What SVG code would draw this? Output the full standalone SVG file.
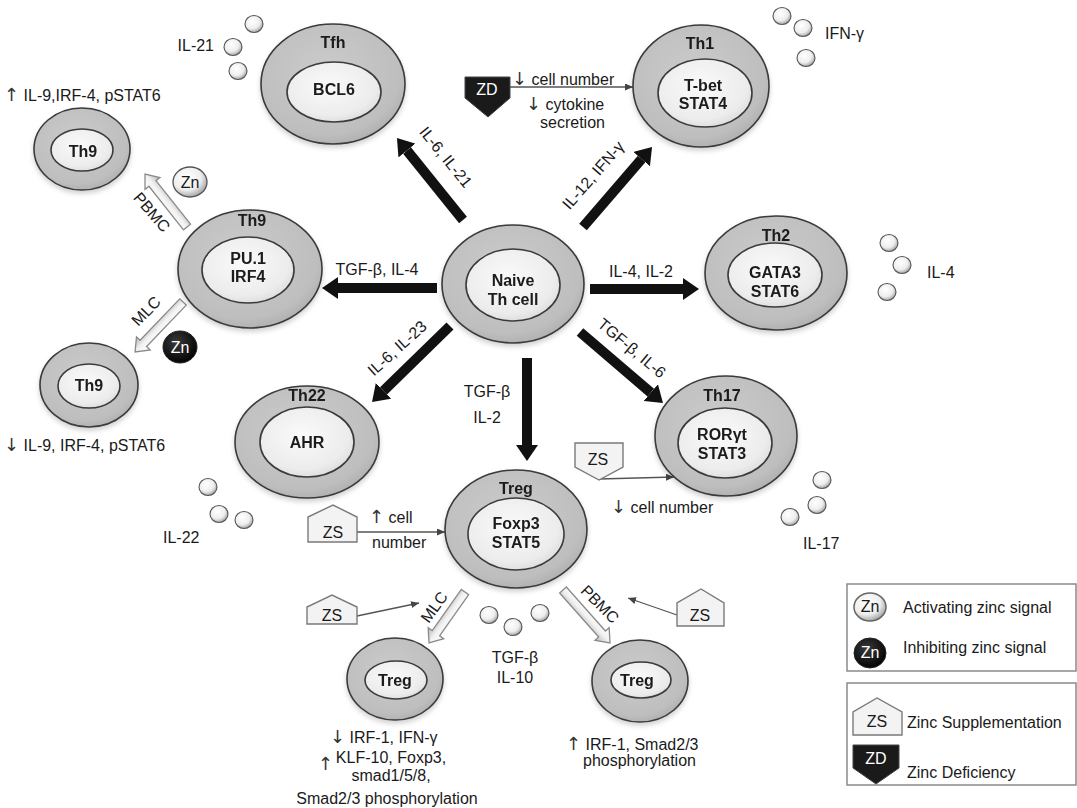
<svg xmlns="http://www.w3.org/2000/svg" width="1077" height="808" viewBox="0 0 1077 808">
<style>
.outer{fill:url(#gOuter);stroke:#3a3a3a;stroke-width:1.6}
.inner{fill:url(#gInner);stroke:#3a3a3a;stroke-width:1.6}
.b{font-family:"Liberation Sans",Arial,sans-serif;font-weight:bold;font-size:16px;fill:#1a1a1a;text-anchor:middle}
.t{font-family:"Liberation Sans",Arial,sans-serif;font-size:16px;fill:#1a1a1a}
.m{text-anchor:middle}
.ar{font-family:"DejaVu Sans",sans-serif;font-size:18px;fill:#333}
.bub{fill:url(#gBub);stroke:#555;stroke-width:1.1}
.thick{stroke:#111;stroke-width:10;fill:none;marker-end:url(#headBig)}
.thin{stroke:#555;stroke-width:1.3;fill:none;marker-end:url(#headSmall)}
.hollow{fill:url(#gHollow);stroke:#8a8a8a;stroke-width:1.3}
.zs{fill:#f3f3f3;stroke:#7a7a7a;stroke-width:1.4}
.zd{fill:#1a1a1a;stroke:#444;stroke-width:1}
.box{fill:#fff;stroke:#8a8a8a;stroke-width:1.5}
</style>
<defs>
<radialGradient id="gOuter" cx="0.45" cy="0.4" r="0.65">
<stop offset="0" stop-color="#cbcbcb"/><stop offset="0.8" stop-color="#bebebe"/><stop offset="1" stop-color="#ababab"/>
</radialGradient>
<radialGradient id="gInner" cx="0.45" cy="0.4" r="0.7">
<stop offset="0" stop-color="#fafafa"/><stop offset="0.7" stop-color="#ececec"/><stop offset="1" stop-color="#d4d4d4"/>
</radialGradient>
<radialGradient id="gBub" cx="0.4" cy="0.35" r="0.7">
<stop offset="0" stop-color="#ffffff"/><stop offset="0.6" stop-color="#eeeeee"/><stop offset="1" stop-color="#9a9a9a"/>
</radialGradient>
<radialGradient id="gBlack" cx="0.4" cy="0.35" r="0.7">
<stop offset="0" stop-color="#3a3a3a"/><stop offset="1" stop-color="#000"/>
</radialGradient>
<linearGradient id="gHollow" x1="0" y1="0" x2="0" y2="1">
<stop offset="0" stop-color="#ffffff"/><stop offset="0.5" stop-color="#f2f2f2"/><stop offset="1" stop-color="#b5b5b5"/>
</linearGradient>
<filter id="sh" x="-20%" y="-20%" width="140%" height="150%">
<feDropShadow dx="0" dy="3" stdDeviation="2.5" flood-color="#000" flood-opacity="0.18"/>
</filter>
<marker id="headBig" markerUnits="userSpaceOnUse" viewBox="0 -11 16 22" refX="0" refY="0" markerWidth="16" markerHeight="22" orient="auto">
<path d="M0,-11 L16,0 L0,11 z" fill="#111"/>
</marker>
<marker id="headSmall" markerUnits="userSpaceOnUse" viewBox="0 -3.5 8 7" refX="8" refY="0" markerWidth="8" markerHeight="7" orient="auto">
<path d="M0,-3.5 L8,0 L0,3.5 z" fill="#444"/>
</marker>
</defs>
<rect width="1077" height="808" fill="#fff"/>

<g id="connectors">
<line class="thick" x1="463" y1="220" x2="407" y2="150.5"/>
<line class="thick" x1="583" y1="227" x2="641.6" y2="159.1"/>
<line class="thick" x1="437" y1="288" x2="338" y2="288"/>
<line class="thick" x1="590" y1="289" x2="683" y2="289"/>
<line class="thick" x1="450" y1="326" x2="383.5" y2="390.8"/>
<line class="thick" x1="580" y1="332" x2="650.8" y2="392.6"/>
<line class="thick" x1="527" y1="358" x2="527" y2="445"/>
<polygon class="hollow" transform="translate(187,227) rotate(-128.4)" points="0,-4.5 55.6,-4.5 55.6,-9.5 67.6,0 55.6,9.5 55.6,4.5 0,4.5"/>
<polygon class="hollow" transform="translate(183,302) rotate(133.8)" points="0,-4.5 57.3,-4.5 57.3,-9.5 69.3,0 57.3,9.5 57.3,4.5 0,4.5"/>
<polygon class="hollow" transform="translate(465,592) rotate(125.2)" points="0,-4.5 50.4,-4.5 50.4,-9.5 62.4,0 50.4,9.5 50.4,4.5 0,4.5"/>
<polygon class="hollow" transform="translate(563,590) rotate(48.4)" points="0,-4.5 58.8,-4.5 58.8,-9.5 70.8,0 58.8,9.5 58.8,4.5 0,4.5"/>
<line class="thin" x1="510" y1="87" x2="633" y2="87"/>
<line class="thin" x1="357" y1="532" x2="445" y2="532"/>
<line class="thin" x1="599" y1="479" x2="674" y2="477"/>
<line class="thin" x1="357" y1="616" x2="419" y2="603"/>
<line class="thin" x1="677" y1="615" x2="628" y2="598"/>
</g>

<g id="labels">
<text class="t m" transform="translate(446,157) rotate(51)" y="5.7">IL-6, IL-21</text>
<text class="t m" transform="translate(593,175) rotate(-49)" y="5.7">IL-12, IFN-γ</text>
<text class="t m" transform="translate(397,348) rotate(-42)" y="5.7">IL-6, IL-23</text>
<text class="t m" transform="translate(632,348) rotate(40)" y="5.7">TGF-β, IL-6</text>
<text class="t m" x="377" y="275">TGF-β, IL-4</text>
<text class="t m" x="641" y="277">IL-4, IL-2</text>
<text class="t m" x="487" y="397">TGF-β</text>
<text class="t m" x="487" y="423">IL-2</text>
<text class="t m" transform="translate(152,212) rotate(49)" y="5.7">PBMC</text>
<text class="t m" transform="translate(146,311) rotate(-46)" y="5.7">MLC</text>
<text class="t m" transform="translate(434,607) rotate(-54)" y="5.7">MLC</text>
<text class="t m" transform="translate(600,604) rotate(45)" y="5.7">PBMC</text>
<text class="t" x="512" y="85"><tspan class="ar">↓</tspan> cell number</text>
<text class="t" x="526" y="110"><tspan class="ar">↓</tspan> cytokine</text>
<text class="t" x="540" y="128">secretion</text>
<text class="t" x="369" y="523"><tspan class="ar">↑</tspan> cell</text>
<text class="t" x="372" y="548">number</text>
<text class="t" x="611" y="513"><tspan class="ar">↓</tspan> cell number</text>
<text class="t" x="4" y="101"><tspan class="ar">↑</tspan> IL-9,IRF-4, pSTAT6</text>
<text class="t" x="4" y="451"><tspan class="ar">↓</tspan> IL-9, IRF-4, pSTAT6</text>
<text class="t" x="330" y="743"><tspan class="ar">↓</tspan> IRF-1, IFN-γ</text>
<text class="t" x="318" y="770"><tspan class="ar">↑</tspan></text>
<text class="t m" x="391" y="763">KLF-10, Foxp3,</text>
<text class="t m" x="391" y="781">smad1/5/8,</text>
<text class="t m" x="387" y="804">Smad2/3 phosphorylation</text>
<text class="t" x="566" y="750"><tspan class="ar">↑</tspan> IRF-1, Smad2/3</text>
<text class="t" x="583" y="766">phosphorylation</text>
</g>

<g id="cytokines">
<ellipse class="bub" cx="254" cy="24" rx="9" ry="8.5"/><ellipse class="bub" cx="233" cy="47" rx="9" ry="8.5"/><ellipse class="bub" cx="238" cy="71" rx="9" ry="8.5"/>
<text class="t" x="214" y="51" text-anchor="end">IL-21</text>
<ellipse class="bub" cx="782" cy="16" rx="9" ry="8.5"/><ellipse class="bub" cx="803" cy="28" rx="9" ry="8.5"/><ellipse class="bub" cx="806" cy="58" rx="9" ry="8.5"/>
<text class="t" x="825" y="39">IFN-γ</text>
<ellipse class="bub" cx="889" cy="243" rx="9" ry="8.5"/><ellipse class="bub" cx="902" cy="265" rx="9" ry="8.5"/><ellipse class="bub" cx="887" cy="292" rx="9" ry="8.5"/>
<text class="t" x="927" y="278">IL-4</text>
<ellipse class="bub" cx="208" cy="487" rx="9" ry="8.5"/><ellipse class="bub" cx="219" cy="514" rx="9" ry="8.5"/><ellipse class="bub" cx="244" cy="520" rx="9" ry="8.5"/>
<text class="t" x="163" y="543">IL-22</text>
<ellipse class="bub" cx="822" cy="480" rx="9" ry="8.5"/><ellipse class="bub" cx="817" cy="505" rx="9" ry="8.5"/><ellipse class="bub" cx="790" cy="517" rx="9" ry="8.5"/>
<text class="t" x="803" y="549">IL-17</text>
<ellipse class="bub" cx="489" cy="615" rx="9" ry="8.5"/><ellipse class="bub" cx="513" cy="627" rx="9" ry="8.5"/><ellipse class="bub" cx="540" cy="613" rx="9" ry="8.5"/>
<text class="t m" x="515" y="663">TGF-β</text>
<text class="t m" x="515" y="683">IL-10</text>
</g>

<g id="zinc-signals">
<ellipse cx="190" cy="182" rx="17" ry="15" fill="url(#gBub)" stroke="#555" stroke-width="1.3"/>
<text class="t m" x="190" y="188" font-size="15">Zn</text>
<ellipse cx="180" cy="347" rx="17" ry="16" fill="url(#gBlack)" stroke="#222" stroke-width="1"/>
<text class="t m" x="180" y="353" font-size="15" style="fill:#fff">Zn</text>
<path class="zd" d="M465,77 L510,77 L510,98 L488,117 L465,98 Z"/>
<text class="t m" x="487" y="95" style="fill:#fff">ZD</text>
<path class="zs" d="M308,542 L308,517 L333,505 L357,517 L357,542 Z"/>
<text class="t m" x="333" y="538">ZS</text>
<path class="zs" d="M575,443 L623,443 L623,467 L599,480 L575,467 Z"/>
<text class="t m" x="598" y="465">ZS</text>
<path class="zs" d="M307,624 L307,607 L332,595 L357,607 L357,624 Z"/>
<text class="t m" x="332" y="621">ZS</text>
<path class="zs" d="M677,626 L677,603 L701,589 L724,603 L724,626 Z"/>
<text class="t m" x="700" y="621">ZS</text>
</g>

<g id="tfh" filter="url(#sh)">
<ellipse class="outer" cx="333" cy="84" rx="72" ry="60"/>
<ellipse class="inner" cx="334" cy="92" rx="47" ry="30"/>
<text class="b" x="333" y="48">Tfh</text>
<text class="b" x="334" y="95">BCL6</text>
</g>
<g id="th1" filter="url(#sh)">
<ellipse class="outer" cx="701" cy="86" rx="68" ry="61"/>
<ellipse class="inner" cx="705" cy="93" rx="47" ry="34"/>
<text class="b" x="700" y="49">Th1</text>
<text class="b" x="703" y="91">T-bet</text>
<text class="b" x="703" y="109">STAT4</text>
</g>
<g id="th2" filter="url(#sh)">
<ellipse class="outer" cx="776" cy="273" rx="71" ry="57"/>
<ellipse class="inner" cx="775" cy="275" rx="47" ry="32"/>
<text class="b" x="776" y="241">Th2</text>
<text class="b" x="775" y="278">GATA3</text>
<text class="b" x="775" y="297">STAT6</text>
</g>
<g id="naive" filter="url(#sh)">
<ellipse class="outer" cx="513" cy="284" rx="71" ry="59"/>
<ellipse class="inner" cx="513" cy="285" rx="47" ry="36"/>
<text class="b" x="513" y="286">Naive</text>
<text class="b" x="513" y="305">Th cell</text>
</g>
<g id="th9-main" filter="url(#sh)">
<ellipse class="outer" cx="250" cy="269" rx="72" ry="59"/>
<ellipse class="inner" cx="248" cy="270" rx="46" ry="33"/>
<text class="b" x="252" y="226">Th9</text>
<text class="b" x="248" y="264">PU.1</text>
<text class="b" x="248" y="282">IRF4</text>
</g>
<g id="th9-top" filter="url(#sh)">
<ellipse class="outer" cx="82" cy="149" rx="48" ry="41"/>
<ellipse class="inner" cx="82" cy="150" rx="31" ry="21"/>
<text class="b" x="83" y="157">Th9</text>
</g>
<g id="th9-bottom" filter="url(#sh)">
<ellipse class="outer" cx="89" cy="385" rx="49" ry="42"/>
<ellipse class="inner" cx="89" cy="386" rx="31" ry="22"/>
<text class="b" x="89" y="391">Th9</text>
</g>
<g id="th22" filter="url(#sh)">
<ellipse class="outer" cx="307" cy="442" rx="72" ry="56"/>
<ellipse class="inner" cx="307" cy="442" rx="47" ry="35"/>
<text class="b" x="307" y="401">Th22</text>
<text class="b" x="307" y="448">AHR</text>
</g>
<g id="th17" filter="url(#sh)">
<ellipse class="outer" cx="726" cy="436" rx="71" ry="60"/>
<ellipse class="inner" cx="725" cy="443" rx="47" ry="35"/>
<text class="b" x="722" y="401">Th17</text>
<text class="b" x="722" y="440">RORγt</text>
<text class="b" x="722" y="459">STAT3</text>
</g>
<g id="treg-main" filter="url(#sh)">
<ellipse class="outer" cx="516" cy="529" rx="71" ry="59"/>
<ellipse class="inner" cx="516" cy="534" rx="48" ry="36"/>
<text class="b" x="516" y="494">Treg</text>
<text class="b" x="516" y="529">Foxp3</text>
<text class="b" x="516" y="548">STAT5</text>
</g>
<g id="treg-mlc" filter="url(#sh)">
<ellipse class="outer" cx="395" cy="679" rx="48" ry="41"/>
<ellipse class="inner" cx="396" cy="680" rx="31" ry="19"/>
<text class="b" x="395" y="686">Treg</text>
</g>
<g id="treg-pbmc" filter="url(#sh)">
<ellipse class="outer" cx="640" cy="681" rx="48" ry="41"/>
<ellipse class="inner" cx="641" cy="680" rx="30" ry="18"/>
<text class="b" x="637" y="686">Treg</text>
</g>

<g id="legend">
<rect class="box" x="847" y="584" width="229" height="87"/>
<ellipse cx="870" cy="607" rx="16" ry="14" fill="url(#gBub)" stroke="#666" stroke-width="1.5"/>
<text class="t m" x="870" y="612" font-size="15">Zn</text>
<text class="t" x="903" y="613">Activating zinc signal</text>
<ellipse cx="870" cy="653" rx="16" ry="15" fill="url(#gBlack)" stroke="#222" stroke-width="1"/>
<text class="t m" x="870" y="658" font-size="15" style="fill:#fff">Zn</text>
<text class="t" x="903" y="653">Inhibiting zinc signal</text>
<rect class="box" x="847" y="683" width="229" height="102"/>
<path class="zs" d="M853,735 L853,712 L877,698 L902,712 L902,735 Z"/>
<text class="t m" x="877" y="727">ZS</text>
<text class="t" x="907" y="728">Zinc Supplementation</text>
<path class="zd" d="M853,745 L899,745 L899,768 L876,784 L853,768 Z"/>
<text class="t m" x="876" y="764" style="fill:#fff">ZD</text>
<text class="t" x="907" y="778">Zinc Deficiency</text>
</g>
</svg>
